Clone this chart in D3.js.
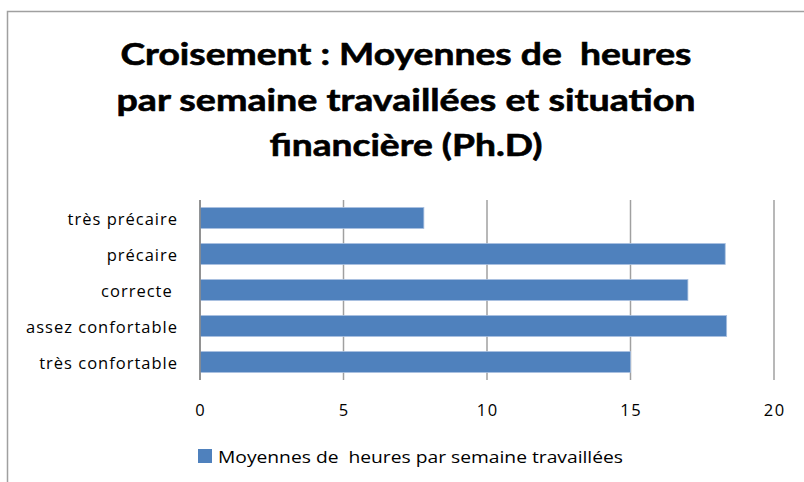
<!DOCTYPE html>
<html>
<head>
<meta charset="utf-8">
<script src="https://cdn.jsdelivr.net/npm/d3@7"></script>
<style>
  body { margin: 0; background: #fff; }
  svg { display: block; }
  text { white-space: pre; }
</style>
</head>
<body>
<div id="draw-space"></div>
<script>
const categories = ['très précaire', 'précaire', 'correcte ', 'assez confortable', 'très confortable'];
const values = [7.8, 18.3, 17.0, 18.35, 15.0];
const xTicks = [0, 5, 10, 15, 20];
const titleLines = ['Croisement : Moyennes de  heures', 'par semaine travaillées et situation', 'financière (Ph.D)'];
const seriesName = 'Moyennes de  heures par semaine travaillées';

const W = 804, H = 482;
const BLUE = '#4f81bd', GRID = '#a0a0a0';
const FONT = '"Open Sans", sans-serif';

const svg = d3.select('#draw-space').append('svg')
              .attr('width', W)
              .attr('height', H);

svg.append('rect')
   .attr('x', 7.5).attr('y', 11.5)
   .attr('width', W + 10).attr('height', H + 10)
   .attr('fill', '#fff')
   .attr('stroke', GRID)
   .attr('stroke-width', 1.5);

// title, squeezed to the original line widths
const titleWidths = [571, 579, 273];
svg.selectAll('.title-line')
   .data(titleLines)
   .enter()
   .append('text')
   .attr('class', 'title-line')
   .attr('x', 406)
   .attr('y', (d, i) => 65 + i * 45.5)
   .attr('text-anchor', 'middle')
   .attr('font-family', 'Lato, sans-serif')
   .attr('font-weight', 'bold')
   .attr('font-size', 31)
   .attr('fill', '#000')
   .attr('stroke', '#000')
   .attr('stroke-width', 0.6)
   .attr('textLength', (d, i) => titleWidths[i])
   .attr('lengthAdjust', 'spacingAndGlyphs')
   .text(d => d);

const x = d3.scaleLinear()
            .domain([0, 20])
            .range([200, 774]);

const y = d3.scaleBand()
            .domain(categories)
            .range([200, 380])
            .paddingInner(0.42)
            .paddingOuter(0.21);

// gridlines
svg.selectAll('.grid')
   .data(xTicks)
   .enter()
   .append('line')
   .attr('class', 'grid')
   .attr('x1', d => x(d)).attr('x2', d => x(d))
   .attr('y1', 200).attr('y2', 380)
   .attr('stroke', GRID)
   .attr('stroke-width', 1.5);

svg.selectAll('.bar')
   .data(values)
   .enter()
   .append('rect')
   .attr('class', 'bar')
   .attr('x', x(0))
   .attr('y', (d, i) => y(categories[i]))
   .attr('width', d => x(d) - x(0))
   .attr('height', y.bandwidth())
   .attr('fill', BLUE)
   .attr('stroke', '#a7bfdf')
   .attr('stroke-width', 0.8);

// axis line on top of bars
svg.append('line')
   .attr('x1', x(0)).attr('x2', x(0))
   .attr('y1', 200).attr('y2', 380)
   .attr('stroke', '#868686')
   .attr('stroke-width', 1.5);

svg.selectAll('.cat-label')
   .data(categories)
   .enter()
   .append('text')
   .attr('class', 'cat-label')
   .attr('x', 178)
   .attr('y', d => y(d) + y.bandwidth() / 2)
   .attr('dy', '0.45em')
   .attr('text-anchor', 'end')
   .attr('font-family', FONT)
   .attr('font-size', 16.5)
   .attr('letter-spacing', 1)
   .attr('fill', '#000')
   .text(d => d);

svg.selectAll('.tick-label')
   .data(xTicks)
   .enter()
   .append('text')
   .attr('class', 'tick-label')
   .attr('x', d => x(d) + 0.7)
   .attr('y', 416)
   .attr('text-anchor', 'middle')
   .attr('font-family', FONT)
   .attr('font-size', 16.5)
   .attr('letter-spacing', 1.4)
   .attr('fill', '#000')
   .text(d => d);

// legend
const legend = svg.append('g')
                  .attr('transform', 'translate(198,449)');

legend.append('rect')
      .attr('width', 14)
      .attr('height', 14)
      .attr('fill', BLUE);

legend.append('text')
      .attr('x', 20)
      .attr('y', 14)
      .attr('font-family', FONT)
      .attr('font-size', 16)
      .attr('fill', '#000')
      .attr('textLength', 405)
      .attr('lengthAdjust', 'spacingAndGlyphs')
      .text(seriesName);
</script>
</body>
</html>
